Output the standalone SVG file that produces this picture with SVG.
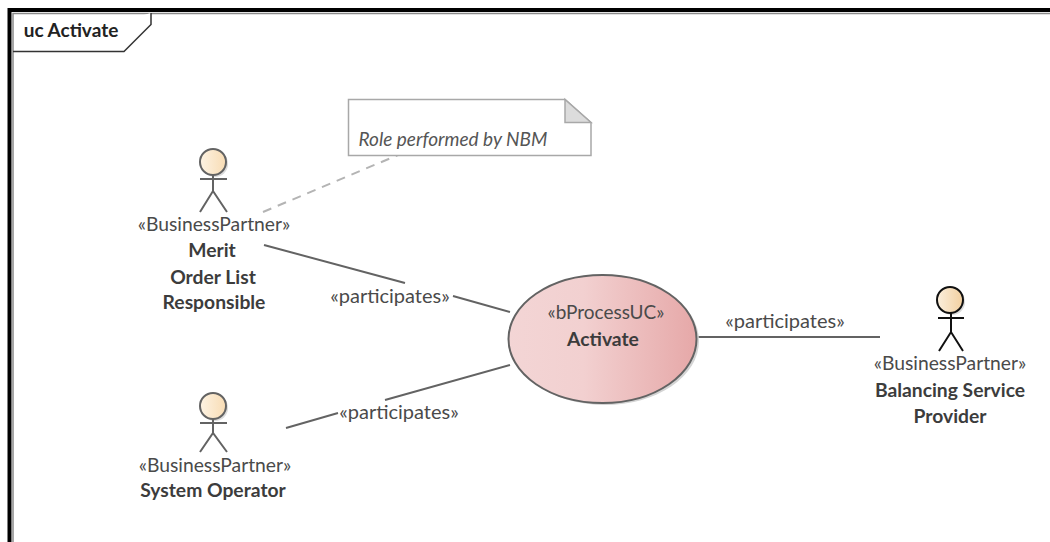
<svg xmlns="http://www.w3.org/2000/svg" width="1050" height="542" viewBox="0 0 1050 542">
<style>
text{font-family:"Lato","Open Sans","Liberation Sans",sans-serif;font-size:19.300px;fill:#4a4a4a;text-anchor:middle}
.b{font-weight:700;fill:#3c3c3c}
.p{font-size:20px}
.a{fill:none;stroke:#636363;stroke-width:2}
.k{fill:none;stroke:#111;stroke-width:2}
.c{fill:none;stroke:#636363;stroke-width:2}
</style>
<defs>
<linearGradient id="g1"><stop offset="0" stop-color="#fdf3e3"/><stop offset="1" stop-color="#f8dcb4"/></linearGradient>
<linearGradient id="g2"><stop offset="0" stop-color="#fbefdd"/><stop offset="1" stop-color="#f2cf9f"/></linearGradient>
<linearGradient id="g3"><stop offset="0" stop-color="#f3d5d5"/><stop offset=".4" stop-color="#f2d0d0"/><stop offset="1" stop-color="#e6a8a8"/></linearGradient>
</defs>
<rect width="1050" height="542" fill="#fff"/>
<g id="frame">
<path d="M9.500 542V10H1050" fill="none" stroke="#000" stroke-width="4"/>
<path d="M13 542V13.500H1050" fill="none" stroke="#8a8a8a" stroke-width="1.500"/>
<path d="M13 51.500H124L151 24.500V13" fill="#fff" stroke="#333" stroke-width="1.500"/>
<text x="71" y="37" class="b" style="font-size:19px;fill:#222">uc Activate</text>
</g>
<g id="connectors">
<path d="M263 212L398 155" fill="none" stroke="#b4b4b4" stroke-width="2" stroke-dasharray="9 7"/>
<path class="c" d="M264 245L405 283M453 296L510 312"/>
<path class="c" d="M286 428L338 413M385 400L510 365"/>
<path class="c" d="M697 337H880"/>
<text x="390" y="303" class="p">«participates»</text>
<text x="399" y="419" class="p">«participates»</text>
<text x="785" y="328" class="p">«participates»</text>
</g>
<g id="note">
<path d="M348.500 99.500H565L591 122.500V155.500H348.500Z" fill="#fff" stroke="#a8a8a8" stroke-width="1.500"/>
<path d="M565 99.500V122.500H591Z" fill="#dcdcdc" stroke="#a8a8a8" stroke-width="1.500"/>
<text x="453" y="146" style="font-size:19px;font-style:italic;fill:#555">Role performed by NBM</text>
</g>
<g id="actor-merit">
<circle cx="215" cy="164" r="13" fill="#dcdcdc"/>
<circle cx="213" cy="162" r="13" fill="url(#g1)" stroke="#636363" stroke-width="2"/>
<path class="a" d="M200 179H227M213 175V191M200 212L213 191L227 212"/>
<text x="214" y="231">«BusinessPartner»</text>
<text x="212" y="257" class="b">Merit</text>
<text x="213" y="284" class="b">Order List</text>
<text x="214" y="309" class="b">Responsible</text>
</g>
<g id="actor-system-operator">
<circle cx="215" cy="408" r="13" fill="#dcdcdc"/>
<circle cx="213" cy="406" r="13" fill="url(#g1)" stroke="#636363" stroke-width="2"/>
<path class="a" d="M200 423H227M213 419V433M200 452L213 433L227 452"/>
<text x="215" y="472">«BusinessPartner»</text>
<text x="213" y="497" class="b">System Operator</text>
</g>
<g id="usecase-activate">
<ellipse cx="605" cy="341" rx="94" ry="64" fill="#d4d4d4"/>
<ellipse cx="602.500" cy="339" rx="94" ry="64" fill="url(#g3)" stroke="#636363" stroke-width="2"/>
<text x="606" y="319" style="font-size:19px">«bProcessUC»</text>
<text x="603" y="346" class="b">Activate</text>
</g>
<g id="actor-balancing">
<circle cx="952" cy="302" r="13" fill="#dcdcdc"/>
<circle cx="950" cy="300" r="13" fill="url(#g2)" stroke="#111" stroke-width="2"/>
<path class="k" d="M938 318H964M951 313V332M939 351L951 332L963 351"/>
<text x="950" y="370">«BusinessPartner»</text>
<text x="950" y="397" class="b">Balancing Service</text>
<text x="950" y="423" class="b">Provider</text>
</g>
</svg>
